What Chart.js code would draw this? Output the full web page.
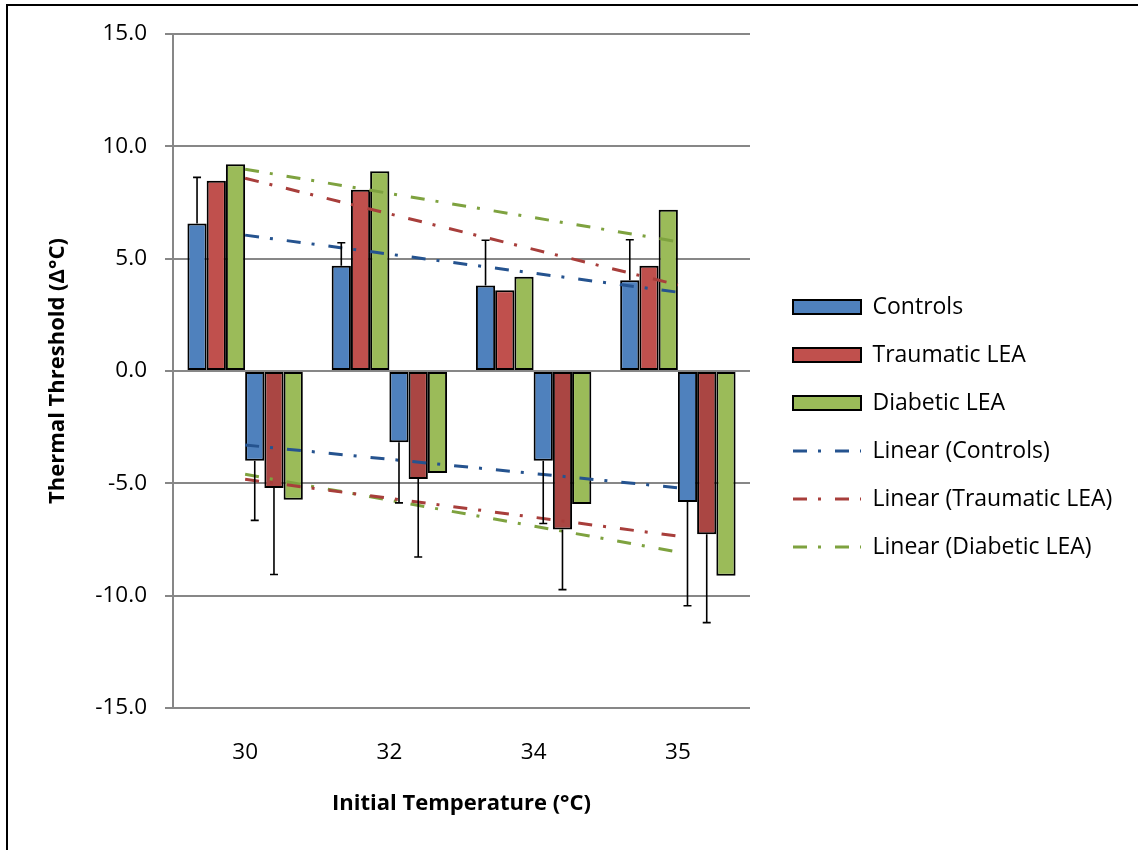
<!DOCTYPE html>
<html lang="en">
<head>
    <meta charset="UTF-8">
    <title>Thermal Threshold</title>
    <style>
        body {
            margin: 0;
            padding: 0;
            background: #ffffff;
            overflow: hidden;
        }

        .wrap {
            position: relative;
            width: 1138px;
            height: 850px;
        }

        /* outer chart frame, only left and top edges are inside the picture */
        .frame {
            position: absolute;
            left: 6px;
            top: 4px;
            width: 1200px;
            height: 900px;
            border: 2px solid #000;
        }

        canvas {
            position: absolute;
            left: 0;
            top: 0;
        }
    </style>
</head>
<body>
    <div class="wrap">
        <div class="frame"></div>
        <canvas id="thermalChart" width="1138" height="850"></canvas>
    </div>

    <script src="https://cdn.jsdelivr.net/npm/chart.js"></script>
    <script>
        // Initial temperatures (categories)
        const temps = ["30", "32", "34", "35"];

        // Warm thresholds (positive bars)
        const warmControls = [6.57, 4.69, 3.81, 4.04];
        const warmTraumatic = [8.47, 8.07, 3.59, 4.69];
        const warmDiabetic = [9.20, 8.89, 4.20, 7.18];

        // Cold thresholds (negative bars)
        const coldControls = [-3.99, -3.17, -3.99, -5.83];
        const coldTraumatic = [-5.21, -4.81, -7.06, -7.27];
        const coldDiabetic = [-5.73, -4.54, -5.92, -9.11];

        // Error bar lengths (null = no error bar drawn)
        const errWarmControls = [2.05, 1.02, 2.01, 1.80];
        const errColdControls = [2.66, 2.70, 2.80, 4.62];
        const errColdTraumatic = [3.85, 3.47, 2.67, 3.93];

        const yTicks = [-15, -10, -5, 0, 5, 10, 15];

        const BLUE = "#4F81BD";
        const RED = "#C0504D";
        const RED_DARK = "#AA4643";
        const GREEN = "#9BBB59";
        const BLUE_TREND = "#25538F";
        const RED_TREND = "#A83E3B";
        const GREEN_TREND = "#7EA23F";
        const GRID = "#878787";
        const FONT = "'Open Sans', 'Noto Sans', sans-serif";

        // least squares line over the category index, like Excel's linear trendline
        function linearTrend(values) {
            const n = values.length;
            let sx = 0, sy = 0, sxy = 0, sxx = 0;
            values.forEach((v, i) => {
                const x = i + 1;
                sx += x; sy += v; sxy += x * v; sxx += x * x;
            });
            const slope = (n * sxy - sx * sy) / (n * sxx - sx * sx);
            const icpt = (sy - slope * sx) / n;
            return values.map((v, i) => icpt + slope * (i + 1));
        }

        function barSet(label, data, color, errors, hideLegend) {
            return {
                type: "bar",
                label: label,
                data: data,
                backgroundColor: color,
                borderColor: "#000000",
                borderWidth: 2,
                borderSkipped: false,
                categoryPercentage: 0.8,
                barPercentage: 1.0,
                order: 2,
                errors: errors,
                hideLegend: hideLegend
            };
        }

        function trendSet(label, values, color, hideLegend) {
            return {
                type: "line",
                label: label,
                data: linearTrend(values),
                borderColor: color,
                backgroundColor: color,
                borderWidth: 3,
                borderDash: [14, 11, 3, 14],
                pointRadius: 0,
                pointHoverRadius: 0,
                fill: false,
                tension: 0,
                order: 1,
                hideLegend: hideLegend
            };
        }

        // error bars drawn on top of the bars, away from zero
        const errorBars = {
            id: "errorBars",
            afterDatasetsDraw(chart) {
                const ctx = chart.ctx;
                const yScale = chart.scales.y;
                ctx.save();
                ctx.strokeStyle = "#000000";
                ctx.lineWidth = 1.6;
                chart.data.datasets.forEach((ds, i) => {
                    if (!ds.errors) return;
                    const meta = chart.getDatasetMeta(i);
                    meta.data.forEach((bar, j) => {
                        const err = ds.errors[j];
                        if (err == null) return;
                        const v = ds.data[j];
                        const end = v + Math.sign(v) * err;
                        const yEnd = yScale.getPixelForValue(end);
                        ctx.beginPath();
                        ctx.moveTo(bar.x, bar.y);
                        ctx.lineTo(bar.x, yEnd);
                        ctx.moveTo(bar.x - 4, yEnd);
                        ctx.lineTo(bar.x + 4, yEnd);
                        ctx.stroke();
                    });
                });
                ctx.restore();
            }
        };

        // nudge legend to where Excel puts it (and let it run to the canvas edge)
        const legendNudge = {
            id: "legendNudge",
            afterLayout(chart) {
                const lg = chart.legend;
                lg.left = 768;
                lg.right = 1138;
                lg.width = lg.right - lg.left;
                lg.top -= 5;
                lg.bottom -= 5;
            }
        };

        const ctx = document.getElementById("thermalChart").getContext("2d");

        const chart = new Chart(ctx, {
            data: {
                labels: temps,
                datasets: [
                    barSet("Controls", warmControls, BLUE, errWarmControls, false),
                    barSet("Traumatic LEA", warmTraumatic, RED, null, false),
                    barSet("Diabetic LEA", warmDiabetic, GREEN, null, false),
                    barSet("Controls (cold)", coldControls, BLUE, errColdControls, true),
                    barSet("Traumatic LEA (cold)", coldTraumatic, RED_DARK, errColdTraumatic, true),
                    barSet("Diabetic LEA (cold)", coldDiabetic, GREEN, null, true),
                    trendSet("Linear (Controls)", warmControls, BLUE_TREND, false),
                    trendSet("Linear (Traumatic LEA)", warmTraumatic, RED_TREND, false),
                    trendSet("Linear (Diabetic LEA)", warmDiabetic, GREEN_TREND, false),
                    trendSet("Linear (Controls) cold", coldControls, BLUE_TREND, true),
                    trendSet("Linear (Traumatic LEA) cold", coldTraumatic, RED_TREND, true),
                    trendSet("Linear (Diabetic LEA) cold", coldDiabetic, GREEN_TREND, true)
                ]
            },
            options: {
                responsive: false,
                animation: false,
                layout: {
                    padding: { left: 34, top: 34, bottom: 20, right: 48 }
                },
                plugins: {
                    tooltip: { enabled: false },
                    legend: {
                        display: true,
                        position: "right",
                        align: "center",
                        maxWidth: 340,
                        labels: {
                            usePointStyle: true,
                            pointStyleWidth: 68,
                            boxHeight: 14,
                            padding: 25,
                            color: "#000000",
                            font: { family: FONT, size: 23 },
                            filter: (item, data) => !data.datasets[item.datasetIndex].hideLegend,
                            sort: (a, b) => a.datasetIndex - b.datasetIndex,
                            generateLabels(chart) {
                                const items = Chart.defaults.plugins.legend.labels.generateLabels(chart);
                                items.forEach((it) => {
                                    const ds = chart.data.datasets[it.datasetIndex];
                                    if (ds.type === "line") {
                                        it.pointStyle = "line";
                                        it.lineDash = ds.borderDash;
                                        it.lineWidth = ds.borderWidth;
                                        it.strokeStyle = ds.borderColor;
                                    } else {
                                        it.pointStyle = "rect";
                                        it.lineWidth = 2;
                                        it.strokeStyle = "#000000";
                                        it.lineDash = [];
                                    }
                                });
                                return items;
                            }
                        }
                    }
                },
                scales: {
                    x: {
                        grid: { display: false, drawTicks: false },
                        border: { display: false },
                        ticks: {
                            color: "#000000",
                            padding: 31,
                            font: { family: FONT, size: 22.5 }
                        },
                        title: {
                            display: true,
                            text: "Initial Temperature (°C)",
                            color: "#000000",
                            padding: { top: 0, bottom: 13 },
                            font: { family: FONT, size: 22, weight: "bold" }
                        },
                        afterFit(scale) { scale.height = 122; }
                    },
                    y: {
                        min: -15,
                        max: 15,
                        afterBuildTicks(scale) {
                            scale.ticks = yTicks.map((v) => ({ value: v }));
                        },
                        grid: {
                            color: GRID,
                            lineWidth: 2,
                            tickLength: 8,
                            drawTicks: true
                        },
                        border: { display: true, color: GRID, width: 2 },
                        ticks: {
                            color: "#000000",
                            padding: 18,
                            font: { family: FONT, size: 22.5 },
                            callback: (v) => Number(v).toFixed(1)
                        },
                        title: {
                            display: true,
                            text: "Thermal Threshold (Δ°C)",
                            color: "#000000",
                            padding: { top: 11, bottom: 0 },
                            font: { family: FONT, size: 22, weight: "bold" }
                        },
                        afterFit(scale) { scale.width = 139; }
                    }
                }
            },
            plugins: [errorBars, legendNudge]
        });
    </script>
</body>
</html>
